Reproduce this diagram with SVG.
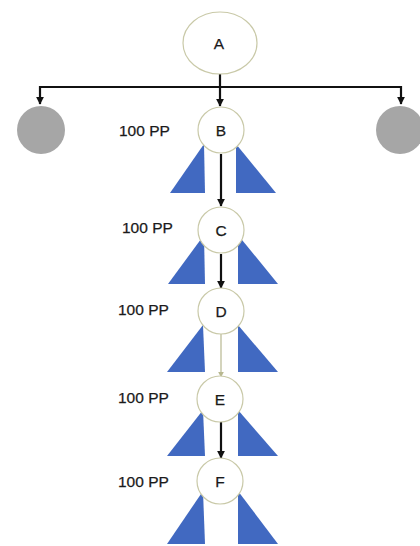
<svg xmlns="http://www.w3.org/2000/svg" width="420" height="546" viewBox="0 0 420 546">
<defs>
<style>
.node{fill:#fff;stroke:#c9c9a8;stroke-width:1.2}
.gray{fill:#a6a6a6;stroke:none}
.tri{fill:#4169c1;stroke:none}
.lbl{font-family:"Liberation Sans",Arial,sans-serif;font-size:15.5px;fill:#1a1a1a;stroke:#1a1a1a;stroke-width:0.25}
.nt{font-family:"Liberation Sans",Arial,sans-serif;font-size:15.5px;fill:#1a1a1a;stroke:#1a1a1a;stroke-width:0.25;text-anchor:middle}
.ln{stroke:#111;stroke-width:2.2;fill:none}
.ln2{stroke:#b8b890;stroke-width:1.2;fill:none}
</style>
<marker id="ah" viewBox="0 0 10 10" refX="9" refY="5" markerWidth="3.5" markerHeight="3.5" orient="auto"><path d="M0,0 L10,5 L0,10 z" fill="#111"/></marker>
<marker id="ah2" viewBox="0 0 10 10" refX="9" refY="5" markerWidth="5" markerHeight="5" orient="auto"><path d="M0,0 L10,5 L0,10 z" fill="#b8b890"/></marker>
</defs>
<g id="connectors">
<path class="ln" d="M220,74 V87"/>
<path class="ln" d="M40,87 H401"/>
<path class="ln" d="M40,86 V104" marker-end="url(#ah)"/>
<path class="ln" d="M220,87 V106" marker-end="url(#ah)"/>
<path class="ln" d="M401,86 V104" marker-end="url(#ah)"/>
<path class="ln" d="M221,154 V206" marker-end="url(#ah)"/>
<path class="ln" d="M221,254 V288" marker-end="url(#ah)"/>
<path class="ln2" d="M221,334 V377" marker-end="url(#ah2)"/>
<path class="ln" d="M221,422 V458" marker-end="url(#ah)"/>
</g>
<g id="A"><ellipse class="node" cx="220" cy="43" rx="37" ry="31"/><text class="nt" x="219" y="49">A</text></g>
<g id="left"><circle class="gray" cx="41" cy="130" r="24"/></g>
<g id="right"><circle class="gray" cx="400" cy="130" r="24"/></g>
<g id="B">
<polygon class="tri" points="204,144 170,193 205,193"/><polygon class="tri" points="236,144 236,193 276,193"/>
<circle class="node" cx="221" cy="130" r="23"/><text class="nt" x="221" y="136">B</text>
<text class="lbl" x="119" y="136">100 PP</text>
</g>
<g id="C">
<polygon class="tri" points="204,235 168,284 205,284"/><polygon class="tri" points="238,235 238,284 278,284"/>
<circle class="node" cx="221" cy="230" r="23"/><text class="nt" x="221" y="236">C</text>
<text class="lbl" x="122" y="233">100 PP</text>
</g>
<g id="D">
<polygon class="tri" points="203,325 167,372 205,372"/><polygon class="tri" points="238,325 238,372 278,372"/>
<circle class="node" cx="221" cy="311" r="23"/><text class="nt" x="221" y="317">D</text>
<text class="lbl" x="118" y="315">100 PP</text>
</g>
<g id="E">
<polygon class="tri" points="203,410 167,456 205,456"/><polygon class="tri" points="238,410 238,456 278,456"/>
<circle class="node" cx="220" cy="399" r="23"/><text class="nt" x="220" y="405">E</text>
<text class="lbl" x="118" y="403">100 PP</text>
</g>
<g id="F">
<polygon class="tri" points="203,491 167,544 205,544"/><polygon class="tri" points="238,491 238,544 278,544"/>
<circle class="node" cx="220" cy="481" r="23"/><text class="nt" x="220" y="487">F</text>
<text class="lbl" x="118" y="487">100 PP</text>
</g>
</svg>
